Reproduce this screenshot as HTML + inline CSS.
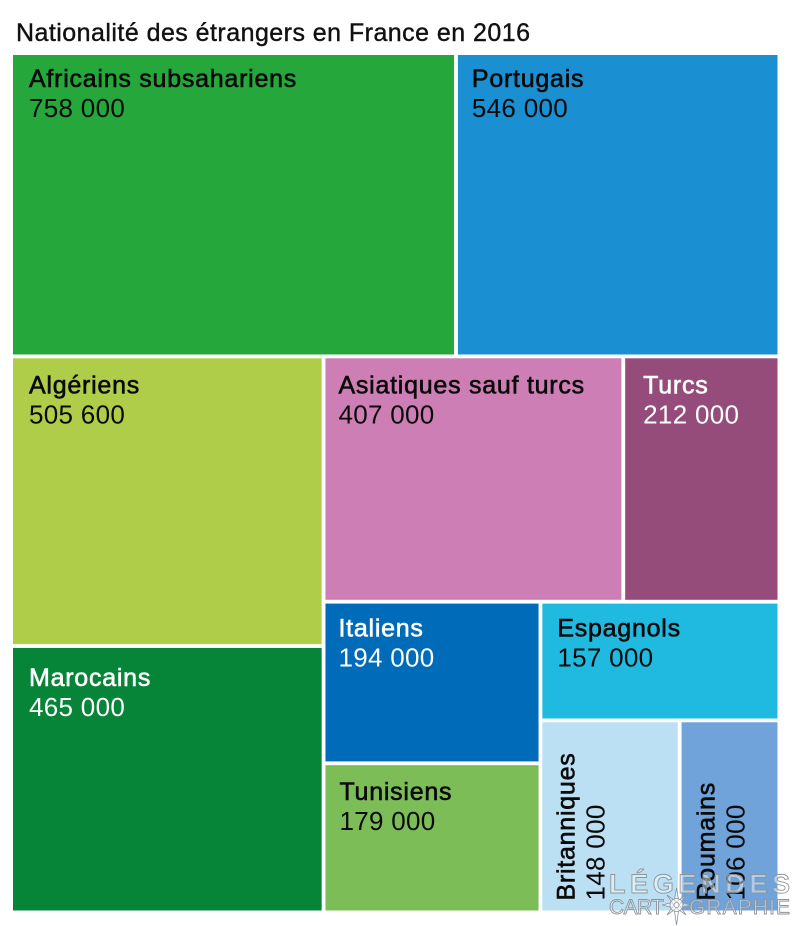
<!DOCTYPE html>
<html lang="fr">
<head>
<meta charset="utf-8">
<title>Nationalité des étrangers en France en 2016</title>
<style>
html,body{margin:0;padding:0;background:#fff;width:800px;height:926px;overflow:hidden}
svg{display:block}
text{font-family:"Liberation Sans",sans-serif}
.lab{font-size:25px;letter-spacing:.75px;stroke-width:.6px}
.val{font-size:26px;letter-spacing:.3px}
.wm{fill:rgba(255,255,255,.45);stroke:#8d959c;stroke-width:.9px}
.wm-b{font-weight:bold}
</style>
</head>
<body>
<svg id="chart" xmlns="http://www.w3.org/2000/svg" width="800" height="926" viewBox="0 0 800 926">
  <text x="16" y="41" font-size="25" fill="#111" stroke="#111" stroke-width=".4" textLength="514" lengthAdjust="spacing">Nationalité des étrangers en France en 2016</text>
  <g id="cells"></g>
  <g>
    <text class="wm wm-b" x="609" y="893" font-size="27" textLength="181" lengthAdjust="spacing">LÉGENDES</text>
    <text class="wm" x="609" y="914" font-size="21" textLength="55" lengthAdjust="spacing">CART</text>
    <text class="wm" x="689" y="914" font-size="21" textLength="101" lengthAdjust="spacing">GRAPHIE</text>
    <g fill="rgba(255,255,255,.55)" stroke="#8d959c" stroke-width=".8">
      <path d="M676.500 888 L679 902 L691 905 L679 908 L676.500 925 L674 908 L662 905 L674 902 Z"/>
      <path d="M667 895 L678 903 L686 915 L675 907 Z M686 895 L678 907 L667 915 L675 903 Z"/>
      <circle cx="676.500" cy="905" r="6.500"/>
      <circle cx="676.500" cy="905" r="2.500"/>
    </g>
  </g>
</svg>
<script>
const categories = ["Africains subsahariens","Portugais","Algériens","Marocains","Asiatiques sauf turcs","Turcs","Italiens","Tunisiens","Espagnols","Britanniques","Roumains"];
const values = [758000,546000,505600,465000,407000,212000,194000,179000,157000,148000,106000];
const fillColors = ["#25a73b","#1a8fd1","#afcd48","#068438","#cd7eb4","#954c7b","#006cb9","#7cbd58","#20bae0","#bbe0f3","#70a3da"];
const textColors = ["#0a0a0a","#0a0a0a","#0a0a0a","#fff","#0a0a0a","#fff","#fff","#0a0a0a","#0a0a0a","#0a0a0a","#0a0a0a"];
const verticalLabels = ["Britanniques","Roumains"];
// Nesting of the treemap: each inner array is a group of category indices, direction alternates.
const hierarchy = [[0,1],[[2,3],[[4,5],[[6,7],[8,[9,10]]]]]];

const GAP = 3.8;
const frame = {x0: 13 - GAP/2, y0: 55 - GAP/2, x1: 777.5 + GAP/2, y1: 910.5 + GAP/2};
const NS = "http://www.w3.org/2000/svg";
const cellsGroup = document.getElementById("cells");

function weight(node){
  return Array.isArray(node) ? node.reduce((s,n)=>s+weight(n),0) : values[node];
}
function formatValue(v){
  return String(Math.round(v)).replace(/\B(?=(\d{3})+$)/g," ");
}
function slug(s){
  return s.toLowerCase().normalize("NFD").replace(/[\u0300-\u036f]/g,"").replace(/\s+/g,"-");
}
function textInset(name){
  const insets = {
    "Africains subsahariens":[16,32],"Portugais":[14,32],"Algériens":[16,35],"Marocains":[16,38],
    "Asiatiques sauf turcs":[13,35],"Turcs":[18,35],"Italiens":[13,33],"Tunisiens":[14,35],
    "Espagnols":[15,33],"Britanniques":[32,10],"Roumains":[33,10]
  };
  return insets[name];
}
function drawCell(i,b){
  const x = b.x0 + GAP/2, y = b.y0 + GAP/2, w = b.x1 - b.x0 - GAP, h = b.y1 - b.y0 - GAP;
  const name = slug(categories[i]);
  const inset = textInset(categories[i]);
  const g = document.createElementNS(NS,"g");
  
  
  const r = document.createElementNS(NS,"rect");
  
  
  r.setAttribute("x", x);
  r.setAttribute("y", y);
  r.setAttribute("width", w);
  r.setAttribute("height", h);
  r.setAttribute("fill", fillColors[i]);
  g.appendChild(r);
  const vertical = verticalLabels.includes(categories[i]);
  const l = document.createElementNS(NS,"text");
  
  
  l.setAttribute("class", "lab");
  l.setAttribute("fill", textColors[i]);
  l.setAttribute("stroke", textColors[i]);
  l.textContent = categories[i];
  const t = document.createElementNS(NS,"text");
  
  
  t.setAttribute("class", "val");
  t.setAttribute("fill", textColors[i]);
  t.textContent = formatValue(values[i]);
  if (vertical) {
    const by = y + h - inset[1];
    l.setAttribute("transform", "translate(" + (x + inset[0]) + " " + by + ") rotate(-90)");
    t.setAttribute("transform", "translate(" + (x + inset[0] + 30) + " " + by + ") rotate(-90)");
  } else {
    l.setAttribute("x", x + inset[0]);
    l.setAttribute("y", y + inset[1]);
    t.setAttribute("x", x + inset[0]);
    t.setAttribute("y", y + inset[1] + 30);
  }
  g.appendChild(l);
  g.appendChild(t);
  cellsGroup.appendChild(g);
}
function layout(node,b,horizontalStack,depth){
  if (!Array.isArray(node)) { drawCell(node,b); return; }
  const total = weight(node);
  const nudge = depth === 0 ? -1.4 : depth === 1 ? -1.7 : 0;
  const start = horizontalStack ? b.x0 : b.y0;
  const end = horizontalStack ? b.x1 : b.y1;
  const span = end - start;
  let acc = 0;
  let cursor = start;
  node.forEach((child, k) => {
    acc += weight(child);
    const next = k === node.length - 1 ? end : start + span * acc / total + nudge;
    const sub = horizontalStack
      ? {x0: cursor, x1: next, y0: b.y0, y1: b.y1}
      : {x0: b.x0, x1: b.x1, y0: cursor, y1: next};
    layout(child, sub, !horizontalStack, depth + 1);
    cursor = next;
  });
}
layout(hierarchy, frame, false, 0);
</script>
</body>
</html>
